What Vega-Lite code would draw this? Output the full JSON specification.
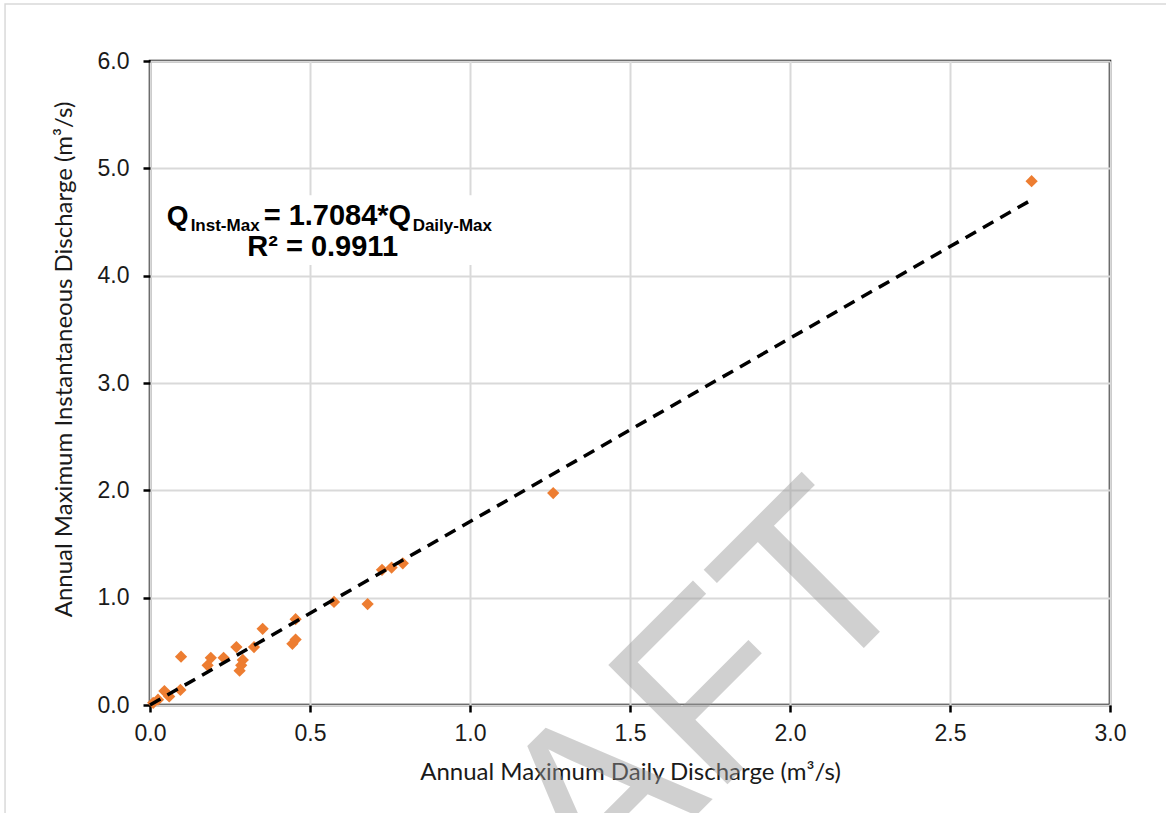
{
  "$schema": "https://vega.github.io/schema/vega-lite/v6.json",
  "autosize": {"type": "none"},
  "padding": {"left": 150, "top": 61, "right": 56, "bottom": 108},
  "width": 960,
  "height": 644,
  "background": "white",
  "config": {
    "view": {"stroke": "#000000", "strokeWidth": 2.5},
    "axis": {
      "domain": false,
      "grid": true,
      "gridColor": "#d9d9d9",
      "gridWidth": 2,
      "tickColor": "#000000",
      "tickWidth": 2.5,
      "tickSize": 7,
      "labelFont": "Liberation Sans",
      "labelFontSize": 23,
      "labelColor": "#1a1a1a",
      "labelFlush": false,
      "labelOverlap": false,
      "titleFont": "Lato",
      "titleFontSize": 24,
      "titleFontWeight": "normal",
      "titleColor": "#1a1a1a"
    }
  },
  "datasets": {
    "points": [
      {"daily": 0.01, "inst": 0.02},
      {"daily": 0.025, "inst": 0.05},
      {"daily": 0.045, "inst": 0.13},
      {"daily": 0.06, "inst": 0.08},
      {"daily": 0.095, "inst": 0.14},
      {"daily": 0.097, "inst": 0.45},
      {"daily": 0.18, "inst": 0.37},
      {"daily": 0.19, "inst": 0.44},
      {"daily": 0.23, "inst": 0.44},
      {"daily": 0.27, "inst": 0.54},
      {"daily": 0.29, "inst": 0.42},
      {"daily": 0.285, "inst": 0.37},
      {"daily": 0.28, "inst": 0.32},
      {"daily": 0.325, "inst": 0.54},
      {"daily": 0.352, "inst": 0.71},
      {"daily": 0.455, "inst": 0.8},
      {"daily": 0.445, "inst": 0.57},
      {"daily": 0.455, "inst": 0.61},
      {"daily": 0.575, "inst": 0.96},
      {"daily": 0.68, "inst": 0.94},
      {"daily": 0.725, "inst": 1.26},
      {"daily": 0.755, "inst": 1.28},
      {"daily": 0.79, "inst": 1.32},
      {"daily": 1.26, "inst": 1.975},
      {"daily": 2.755, "inst": 4.88}
    ],
    "trend": [
      {"daily": 0.0, "inst": 0.0},
      {"daily": 2.75, "inst": 4.698}
    ],
    "box": [
      {"x1": 0.03, "x2": 1.08, "y1": 4.1, "y2": 4.75}
    ],
    "frame": [
      {"x1": -0.453, "x2": 3.3, "y1": -1.2, "y2": 6.53}
    ],
    "eq": [
      {"daily": 0.052, "inst": 4.47}
    ],
    "wm": [
      {"daily": 1.519, "inst": -1.59, "label": "DRAFT"}
    ]
  },
  "layer": [
    {
      "data": {"name": "frame"},
      "mark": {"type": "rect", "fill": null, "fillOpacity": 0, "stroke": "#d9d9d9", "strokeWidth": 1.5, "clip": false},
      "encoding": {
        "x": {"field": "x1", "type": "quantitative"},
        "x2": {"field": "x2"},
        "y": {"field": "y1", "type": "quantitative"},
        "y2": {"field": "y2"}
      }
    },
    {
      "data": {"name": "points"},
      "mark": {"type": "point", "shape": "diamond", "filled": true, "color": "#ED7D31", "size": 150, "opacity": 1},
      "encoding": {
        "x": {
          "field": "daily", "type": "quantitative",
          "scale": {"domain": [0, 3], "nice": false, "zero": false},
          "axis": {
            "values": [0, 0.5, 1, 1.5, 2, 2.5, 3],
            "format": ".1f",
            "labelPadding": 10,
            "title": "Annual Maximum Daily Discharge (m³/s)",
            "titlePadding": 15
          }
        },
        "y": {
          "field": "inst", "type": "quantitative",
          "scale": {"domain": [0, 6], "nice": false, "zero": false},
          "axis": {
            "values": [0, 1, 2, 3, 4, 5, 6],
            "format": ".1f",
            "labelPadding": 14,
            "title": "Annual Maximum Instantaneous Discharge (m³/s)",
            "titlePadding": 21,
            "titleY": 298
          }
        }
      }
    },
    {
      "data": {"name": "trend"},
      "mark": {"type": "line", "color": "#000000", "strokeWidth": 3.5, "strokeDash": [12, 8]},
      "encoding": {
        "x": {"field": "daily", "type": "quantitative"},
        "y": {"field": "inst", "type": "quantitative"}
      }
    },
    {
      "data": {"name": "box"},
      "mark": {"type": "rect", "fill": "white", "stroke": null},
      "encoding": {
        "x": {"field": "x1", "type": "quantitative"},
        "x2": {"field": "x2"},
        "y": {"field": "y1", "type": "quantitative"},
        "y2": {"field": "y2"}
      }
    },
    {
      "data": {"name": "eq"},
      "mark": {"type": "text", "text": "Q", "align": "left", "baseline": "alphabetic", "font": "Liberation Sans", "fontWeight": "bold", "fontSize": 28, "color": "#000000"},
      "encoding": {
        "x": {"field": "daily", "type": "quantitative"},
        "y": {"field": "inst", "type": "quantitative"}
      }
    },
    {
      "data": {"name": "eq"},
      "mark": {"type": "text", "text": "Inst-Max", "align": "left", "baseline": "alphabetic", "dx": 24, "dy": 6, "font": "Liberation Sans", "fontWeight": "bold", "fontSize": 17, "color": "#000000"},
      "encoding": {
        "x": {"field": "daily", "type": "quantitative"},
        "y": {"field": "inst", "type": "quantitative"}
      }
    },
    {
      "data": {"name": "eq"},
      "mark": {"type": "text", "text": "= 1.7084*Q", "align": "left", "baseline": "alphabetic", "dx": 97, "font": "Liberation Sans", "fontWeight": "bold", "fontSize": 29, "color": "#000000"},
      "encoding": {
        "x": {"field": "daily", "type": "quantitative"},
        "y": {"field": "inst", "type": "quantitative"}
      }
    },
    {
      "data": {"name": "eq"},
      "mark": {"type": "text", "text": "Daily-Max", "align": "left", "baseline": "alphabetic", "dx": 246, "dy": 6, "font": "Liberation Sans", "fontWeight": "bold", "fontSize": 17, "color": "#000000"},
      "encoding": {
        "x": {"field": "daily", "type": "quantitative"},
        "y": {"field": "inst", "type": "quantitative"}
      }
    },
    {
      "data": {"name": "eq"},
      "mark": {"type": "text", "text": "R² = 0.9911", "align": "center", "baseline": "alphabetic", "dx": 156, "dy": 31, "font": "Liberation Sans", "fontWeight": "bold", "fontSize": 29, "color": "#000000"},
      "encoding": {
        "x": {"field": "daily", "type": "quantitative"},
        "y": {"field": "inst", "type": "quantitative"}
      }
    },
    {
      "data": {"name": "wm"},
      "mark": {"type": "text", "align": "center", "baseline": "alphabetic", "angle": 315, "font": "Liberation Sans", "fontSize": 245, "color": "#999999", "opacity": 0.45, "clip": false},
      "encoding": {
        "x": {"field": "daily", "type": "quantitative"},
        "y": {"field": "inst", "type": "quantitative"},
        "text": {"field": "label"}
      }
    }
  ]
}
